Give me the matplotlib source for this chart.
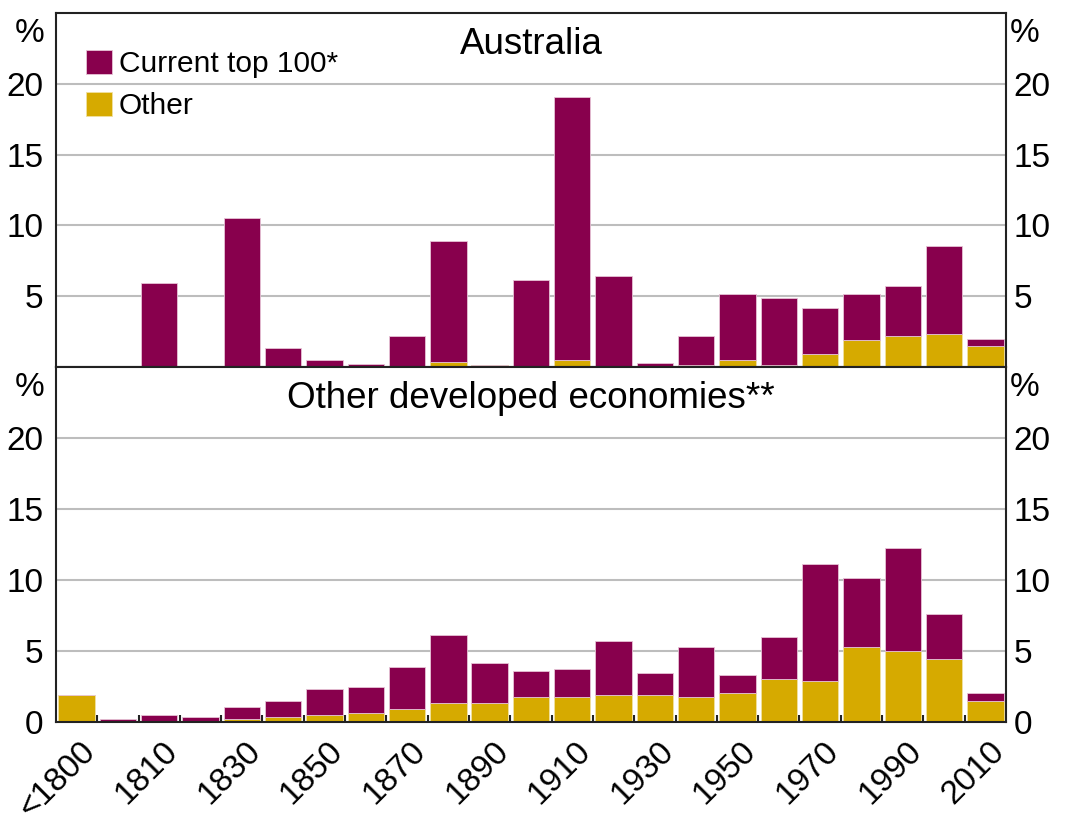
import matplotlib
matplotlib.use("Agg")
import matplotlib.pyplot as plt
import matplotlib.transforms as mtransforms
import numpy as np

plt.rcParams['font.family'] = ['Liberation Sans', 'DejaVu Sans']

# decade of incorporation
decades = ['<1800', '1800', '1810', '1820', '1830', '1840', '1850', '1860',
           '1870', '1880', '1890', '1900', '1910', '1920', '1930', '1940',
           '1950', '1960', '1970', '1980', '1990', '2000', '2010']

# Australia (% of listed companies)
aus_top100 = [0, 0, 5.9, 0, 10.55, 1.33, 0.48, 0.19, 2.16, 8.55, 0, 6.14,
              18.6, 6.45, 0.3, 2.0, 4.66, 4.71, 3.25, 3.24, 3.58, 6.24, 0.55]
aus_other = [0, 0, 0, 0, 0, 0, 0, 0, 0, 0.33, 0.17, 0, 0.48, 0, 0, 0.17,
             0.48, 0.17, 0.9, 1.9, 2.16, 2.32, 1.45]

# Other developed economies (% of listed companies)
oth_top100 = [0, 0.17, 0.45, 0.31, 0.85, 1.14, 1.85, 1.82, 3.01, 4.83,
              2.85, 1.85, 1.99, 3.84, 1.57, 3.55, 1.28, 2.98, 8.24, 4.83,
              7.24, 3.13, 0.57]
oth_other = [1.87, 0, 0, 0, 0.17, 0.31, 0.45, 0.62, 0.88, 1.3, 1.3, 1.73,
             1.73, 1.87, 1.87, 1.73, 2.02, 3.01, 2.87, 5.28, 5.0, 4.43, 1.45]

purple = '#88004D'
gold = '#D6AA00'
fs = 24

fig = plt.figure(figsize=(10.66, 8.17), dpi=100)
ax1 = fig.add_axes([0.0525, 0.5508, 0.8912, 0.4332])
ax2 = fig.add_axes([0.0525, 0.1166, 0.8912, 0.4342])

x = np.arange(len(decades))

def draw_panel(ax, top100, other, title, show_zero):
    ax.bar(x, other, width=0.88, color=gold, edgecolor='#F0E0A0', lw=0.6,
           zorder=2, label='Other')
    ax.bar(x, top100, width=0.88, bottom=other, color=purple,
           edgecolor='#E6C3D6', lw=0.6, zorder=2, label='Current top 100*')
    ax.set_xlim(-0.5, len(decades) - 0.5)
    ax.set_ylim(0, 25)
    ticks = [0, 5, 10, 15, 20] if show_zero else [5, 10, 15, 20]
    ax.set_yticks(ticks)
    ax.set_yticklabels([str(t) for t in ticks])
    ax.tick_params(axis='y', length=0, labelsize=fs, pad=9,
                   labelright=True, right=False)
    for t in [5, 10, 15, 20]:
        ax.axhline(t, color='#BDBDBD', lw=1.5, zorder=1)
    for sp in ax.spines.values():
        sp.set_linewidth(1.5)
        sp.set_color('#222222')
    ax.text(0.5, 22.75, title, ha='center', va='center', fontsize=26.5,
            transform=mtransforms.blended_transform_factory(ax.transAxes, ax.transData))
    ax.text(-0.012, 0.985, '%', ha='right', va='top', fontsize=fs,
            transform=ax.transAxes)
    ax.text(1.004, 0.985, '%', ha='left', va='top', fontsize=fs,
            transform=ax.transAxes)

draw_panel(ax1, aus_top100, aus_other, 'Australia', False)
draw_panel(ax2, oth_top100, oth_other, 'Other developed economies**', True)

# right-side labels sit closer to the spine
for ax in (ax1, ax2):
    for t in ax.yaxis.get_major_ticks():
        t.label2.set_transform(t.label2.get_transform() +
                               mtransforms.ScaledTranslation(-0.05, 0, fig.dpi_scale_trans))

ax1.set_xticks([])

# legend (top100 first)
handles, labels = ax1.get_legend_handles_labels()
ax1.legend(handles[::-1], labels[::-1], loc='upper left',
           bbox_to_anchor=(0.032, 0.897), frameon=False, fontsize=21.5,
           handlelength=0.87, handleheight=0.87, handletextpad=0.22,
           labelspacing=0.47, borderpad=0, borderaxespad=0)

# x ticks: small inward ticks at bin edges, labels every other decade
ax2.set_xticks(np.arange(0.5, len(decades) - 1, 1.0), minor=True)
ax2.tick_params(axis='x', which='minor', direction='in', length=5,
                width=1.5, color='#222222')
ax2.set_xticks(x[::2])
ax2.set_xticklabels(decades[::2], rotation=45, ha='right',
                    rotation_mode='anchor', fontsize=fs)
ax2.tick_params(axis='x', which='major', length=0, pad=10)
offset = mtransforms.ScaledTranslation(0.03, 0, fig.dpi_scale_trans)
for lab in ax2.get_xticklabels():
    lab.set_transform(lab.get_transform() + offset)

fig.savefig('out.png', dpi=100)
